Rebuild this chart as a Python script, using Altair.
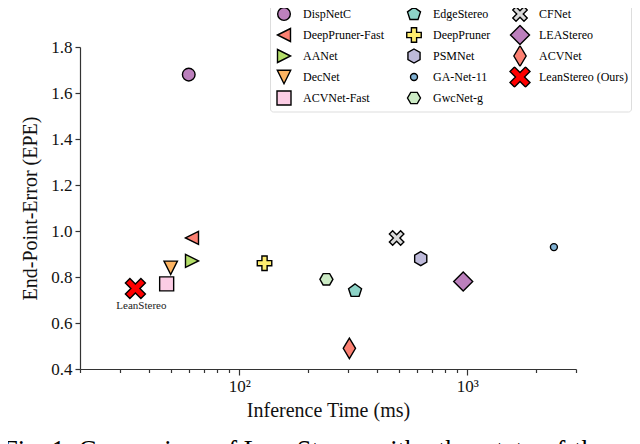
import altair as alt
import pandas as pd

# ---- data ----
names = ["DispNetC", "DeepPruner-Fast", "AANet", "DecNet", "ACVNet-Fast",
         "EdgeStereo", "DeepPruner", "PSMNet", "GA-Net-11", "GwcNet-g",
         "CFNet", "LEAStereo", "ACVNet", "LeanStereo (Ours)"]
times_ms = [60, 62, 62, 50, 48, 322, 129, 625, 2400, 241, 490, 960, 304, 35]
epe = [1.68, 0.97, 0.87, 0.84, 0.77, 0.74, 0.86, 0.88, 0.93, 0.79, 0.97, 0.78, 0.49, 0.75]

colors = ["#bc80bd", "#fb8072", "#b3de69", "#fdb462", "#fccde5",
          "#8dd3c7", "#ffed6f", "#bebada", "#80b1d3", "#ccebc5",
          "#d9d9d9", "#bc80bd", "#fb8072", "#ff0000"]
outline = ["#000000"] * len(names)

shapes = [
    "circle",
    "M-1,0L1,-1L1,1Z",                                   # triangle left
    "M1,0L-1,-1L-1,1Z",                                  # triangle right
    "M-1,-1L1,-1L0,1Z",                                  # triangle down
    "M-1,-1L1,-1L1,1L-1,1Z",                             # square
    "M0,-1L0.951,-0.309L0.588,0.809L-0.588,0.809L-0.951,-0.309Z",  # pentagon
    "M-1,-0.36L-0.36,-0.36L-0.36,-1L0.36,-1L0.36,-0.36L1,-0.36L1,0.36L0.36,0.36L0.36,1L-0.36,1L-0.36,0.36L-1,0.36Z",  # plus
    "M0,-1L0.866,-0.5L0.866,0.5L0,1L-0.866,0.5L-0.866,-0.5Z",        # hexagon pointy
    "circle",
    "M1,0L0.5,0.866L-0.5,0.866L-1,0L-0.5,-0.866L0.5,-0.866Z",        # hexagon flat
    "M0,-0.45L0.55,-1L1,-0.55L0.45,0L1,0.55L0.55,1L0,0.45L-0.55,1L-1,0.55L-0.45,0L-1,-0.55L-0.55,-1Z",  # X
    "M0,-1L1,0L0,1L-1,0Z",                               # diamond
    "M0,-1L0.6,0L0,1L-0.6,0Z",                           # thin diamond
    "M0,-0.45L0.55,-1L1,-0.55L0.45,0L1,0.55L0.55,1L0,0.45L-0.55,1L-1,0.55L-0.45,0L-1,-0.55L-0.55,-1Z",  # X
]
sizes = [160, 169, 169, 180, 196, 187, 210, 196, 49, 169, 210, 361, 420, 400]

x_ticks = [20, 30, 40, 50, 60, 70, 80, 90, 100, 200, 300, 400, 500, 600,
           700, 800, 900, 1000, 2000, 3000]
y_ticks = [0.4, 0.6, 0.8, 1.0, 1.2, 1.4, 1.6, 1.8]

annot_name = ["LeanStereo"]
annot_time = [35]
annot_epe = [0.75]

caption = "Fig. 1: Comparison of LeanStereo with other state-of-the-art"

# ---- build ----
df = pd.DataFrame({"name": names, "time": times_ms, "epe": epe})
adf = pd.DataFrame({"label": annot_name, "time": annot_time, "epe": annot_epe})

FONT = "Liberation Serif"

legend = alt.Legend(
    title=None, orient="none", legendX=190, legendY=-46.5, columns=3,
    labelFont=FONT, labelFontSize=12, labelColor="black",
    columnPadding=18, rowPadding=-1, labelOffset=8, clipHeight=21,
    strokeColor="#dddddd", fillColor="white", cornerRadius=3, padding=3,
    symbolOpacity=1, symbolStrokeWidth=1.4,
)

x_enc = alt.X(
    "time:Q",
    scale=alt.Scale(type="log", domain=[20, 3000], nice=False),
    axis=alt.Axis(
        values=x_ticks,
        labelExpr="datum.value == 100 ? '10\u00b2' : (datum.value == 1000 ? '10\u00b3' : '')",
        tickSize={"condition": {"test": "datum.value == 100 || datum.value == 1000", "value": 6}, "value": 3.5},
        title="Inference Time (ms)", grid=False, labelPadding=3, titlePadding=6,
        labelFlush=False, labelOverlap=False,
    ),
)
y_enc = alt.Y(
    "epe:Q",
    scale=alt.Scale(domain=[0.4, 1.8], nice=False, zero=False),
    axis=alt.Axis(values=y_ticks, format=".1f", title="End-Point-Error (EPE)",
                  grid=False, tickSize=5, labelPadding=3, titlePadding=10),
)

points = alt.Chart(df).mark_point(
    filled=True, strokeWidth=1.4, opacity=1
).encode(
    x=x_enc,
    y=y_enc,
    color=alt.Color("name:N", scale=alt.Scale(domain=names, range=colors), legend=legend),
    stroke=alt.Stroke("name:N", scale=alt.Scale(domain=names, range=outline), legend=legend),
    shape=alt.Shape("name:N", scale=alt.Scale(domain=names, range=shapes), legend=legend),
    size=alt.Size("name:N", scale=alt.Scale(type="ordinal", domain=names, range=sizes), legend=legend),
)

label = alt.Chart(adf).mark_text(
    font=FONT, fontSize=11, dx=6, dy=20, baseline="alphabetic", align="center", color="#222"
).encode(x="time:Q", y="epe:Q", text="label:N")

chart = alt.layer(points, label).properties(
    width=496, height=322,
    autosize=alt.AutoSizeParams(type="none"),
    padding={"left": 72, "right": 56, "top": 39, "bottom": 75},
    title=alt.Title(caption, orient="bottom", anchor="start", font=FONT, fontSize=26.5,
                    fontWeight="normal", color="black", offset=18, dx=-77, frame="group"),
).configure_view(stroke=None).configure_axis(
    labelFont=FONT, labelFontSize=17, labelColor="#111",
    titleFont=FONT, titleFontSize=20, titleFontWeight="normal", titleColor="#111",
    domainColor="#333", tickColor="#333", domainWidth=1.2, tickWidth=1.2,
)

chart.save("out.html", embed_options={"renderer": "svg", "actions": False})
